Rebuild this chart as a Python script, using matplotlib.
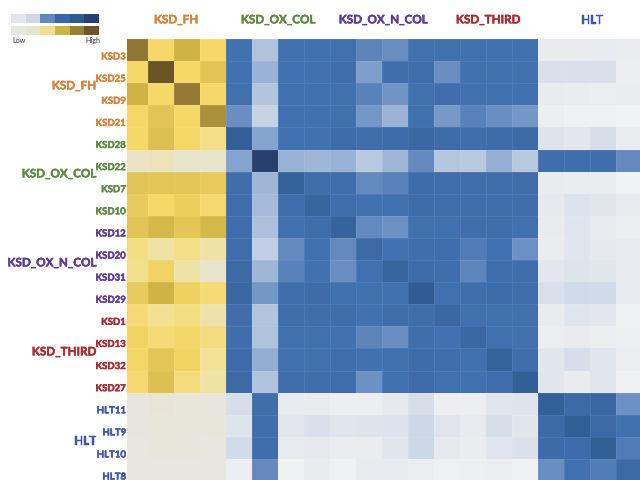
import numpy as np
import matplotlib
matplotlib.use("Agg")
import matplotlib.pyplot as plt
import matplotlib.patheffects as pe
from matplotlib.colors import LinearSegmentedColormap, ListedColormap
from matplotlib.transforms import blended_transform_factory

# row / column names
row_labels = ["KSD3", "KSD25", "KSD9", "KSD21", "KSD28", "KSD22", "KSD7", "KSD10", "KSD12", "KSD20",
              "KSD31", "KSD29", "KSD1", "KSD13", "KSD32", "KSD27", "HLT11", "HLT9", "HLT10", "HLT8"]
row_groups = [0, 0, 0, 0, 1, 1, 1, 1, 2, 2, 2, 2, 3, 3, 3, 3, 4, 4, 4, 4]
group_names = ["KSD_FH", "KSD_OX_COL", "KSD_OX_N_COL", "KSD_THIRD", "HLT"]
group_colors = ["#d9833c", "#5f8a44", "#5f3c96", "#a92c30", "#4058a8"]

# first 4 columns, yellow scale
yellow_vals = np.array([
    [.82, .45, .60, .45],
    [.45, 1.0, .45, .53],
    [.60, .45, .80, .45],
    [.45, .53, .45, .72],
    [.45, .55, .45, .37],
    [.22, .24, .20, .20],
    [.53, .52, .52, .50],
    [.50, .45, .49, .43],
    [.53, .58, .52, .58],
    [.38, .30, .37, .30],
    [.36, .47, .29, .20],
    [.50, .60, .48, .42],
    [.42, .34, .38, .28],
    [.47, .42, .46, .39],
    [.46, .52, .47, .33],
    [.43, .55, .40, .30],
    [.06, .10, .07, .06],
    [.06, .09, .07, .08],
    [.05, .08, .06, .04],
    [.02, .03, .03, .02],
])

# other 16 columns, blue scale
blue_vals = np.array([
    [.70, .36, .70, .70, .71, .62, .58, .71, .71, .71, .70, .70, .08, .08, .09, .07],
    [.70, .44, .70, .70, .72, .52, .72, .72, .58, .71, .71, .71, .18, .18, .19, .06],
    [.71, .35, .70, .70, .71, .63, .56, .71, .72, .71, .71, .70, .08, .07, .06, .07],
    [.58, .27, .70, .70, .71, .55, .43, .71, .54, .63, .58, .55, .05, .03, .03, .01],
    [.84, .50, .70, .70, .74, .72, .74, .78, .74, .72, .74, .75, .15, .12, .20, .07],
    [.50, 1.0, .44, .42, .44, .33, .42, .60, .34, .33, .45, .33, .72, .72, .72, .60],
    [.72, .42, .83, .72, .72, .60, .63, .74, .72, .72, .72, .72, .08, .07, .07, .01],
    [.72, .40, .72, .80, .72, .70, .71, .74, .72, .72, .72, .72, .10, .16, .13, .09],
    [.72, .37, .70, .73, .82, .60, .57, .71, .71, .72, .73, .71, .08, .14, .09, .05],
    [.72, .30, .60, .70, .60, .76, .70, .72, .72, .66, .70, .57, .07, .14, .10, .09],
    [.76, .42, .63, .70, .58, .70, .80, .74, .72, .61, .72, .72, .12, .15, .13, .09],
    [.78, .55, .72, .74, .71, .71, .71, .88, .71, .72, .74, .73, .18, .23, .23, .09],
    [.72, .35, .72, .72, .72, .70, .72, .72, .78, .71, .71, .71, .08, .14, .12, .03],
    [.72, .36, .71, .71, .70, .62, .58, .72, .70, .78, .71, .71, .06, .08, .06, .04],
    [.74, .46, .71, .71, .72, .70, .71, .74, .72, .71, .82, .72, .13, .20, .14, .06],
    [.76, .36, .72, .72, .73, .57, .70, .74, .71, .71, .72, .85, .13, .08, .14, .03],
    [.20, .72, .09, .08, .05, .05, .10, .20, .05, .05, .13, .15, .84, .75, .77, .57],
    [.15, .72, .12, .18, .14, .15, .16, .24, .14, .09, .20, .13, .76, .86, .76, .71],
    [.22, .72, .09, .10, .07, .07, .13, .24, .10, .07, .14, .17, .75, .74, .86, .66],
    [.05, .60, .02, .08, .03, .09, .09, .06, .03, .04, .06, .03, .58, .70, .66, .76],
])

# legend swatches
legend_blue = ["#e3e6ea", "#cdd7e7", "#6386bf", "#3a65a5", "#2f5a90", "#28406e"]
legend_yellow = ["#e8e6e1", "#e9e4d0", "#f3de8c", "#cfb344", "#9a7f36", "#6d5527"]

cmap_yellow = LinearSegmentedColormap.from_list("yel", [
    (0, "#e8e6e3"), (.2, "#e9e4cc"), (.35, "#f3e08f"), (.45, "#f6d869"),
    (.6, "#cfb344"), (.8, "#957a35"), (1, "#6b5428")])
cmap_blue = LinearSegmentedColormap.from_list("blu", [
    (0, "#f2f3f3"), (.1, "#e6e9ee"), (.2, "#d6deea"), (.3, "#c0cfe3"), (.4, "#a5bbd9"),
    (.5, "#86a4cf"), (.6, "#6389be"), (.7, "#4271b1"), (.8, "#39659f"), (.9, "#2e5a90"), (1, "#27406e")])

plt.rcParams["font.family"] = ["Lato", "DejaVu Sans"]
W, H = 640, 481
fig = plt.figure(figsize=(W / 100, H / 100), dpi=100)

# heatmap, first column and last col/row are cut off in the original
ax = fig.add_axes([127 / W, 0, 513 / W, 441 / H])
edge = (1, 1, 1, 0.07)
x_edges = np.arange(21)
y_edges = np.arange(21)
ax.pcolormesh(x_edges[:5], y_edges, yellow_vals, cmap=cmap_yellow, vmin=0, vmax=1, edgecolors=edge, linewidth=0.5)
ax.pcolormesh(x_edges[4:], y_edges, blue_vals, cmap=cmap_blue, vmin=0, vmax=1, edgecolors=edge, linewidth=0.5)
ax.set_xlim(0.19, 19.92)
ax.set_ylim(19.95, 0)
ax.axis("off")


# source image is soft, a thin stroke gets the text weight closer
def thick(col):
    return [pe.withStroke(linewidth=0.35, foreground=col)]


trans = blended_transform_factory(ax.transAxes, ax.transData)
for i, lab in enumerate(row_labels):
    col = group_colors[row_groups[i]]
    ax.annotate(lab, xy=(0, i + 0.5), xycoords=trans, xytext=(-1, -7), textcoords="offset pixels",
                ha="right", va="center", fontsize=6.9, fontweight="bold",
                color=col, annotation_clip=False, path_effects=thick(col))

# group titles, top and left
top_x = [176, 278, 383, 488, 592]
left_y = [87, 175, 264, 353, 442]
for name, col, x, y in zip(group_names, group_colors, top_x, left_y):
    fig.text(x / W, 1 - 21 / H, name, color=col, ha="center", va="center", fontsize=8.4,
             fontweight="bold", path_effects=thick(col))
    fig.text(96 / W, 1 - y / H, name, color=col, ha="right", va="center", fontsize=8.4,
             fontweight="bold", path_effects=thick(col))

# colour legend
lax1 = fig.add_axes([11 / W, 1 - 24 / H, 88 / W, 9 / H])
lax1.imshow([np.arange(6)], cmap=ListedColormap(legend_blue), aspect="auto")
lax1.axis("off")
lax2 = fig.add_axes([11 / W, 1 - 36 / H, 88 / W, 9 / H])
lax2.imshow([np.arange(6)], cmap=ListedColormap(legend_yellow), aspect="auto")
lax2.axis("off")
fig.text(12 / W, 1 - 40.5 / H, "Low", fontsize=5.2, ha="left", va="center", color="#333333")
fig.text(100 / W, 1 - 40.5 / H, "High", fontsize=5.2, ha="right", va="center", color="#333333")

fig.savefig("out.png", dpi=100)
